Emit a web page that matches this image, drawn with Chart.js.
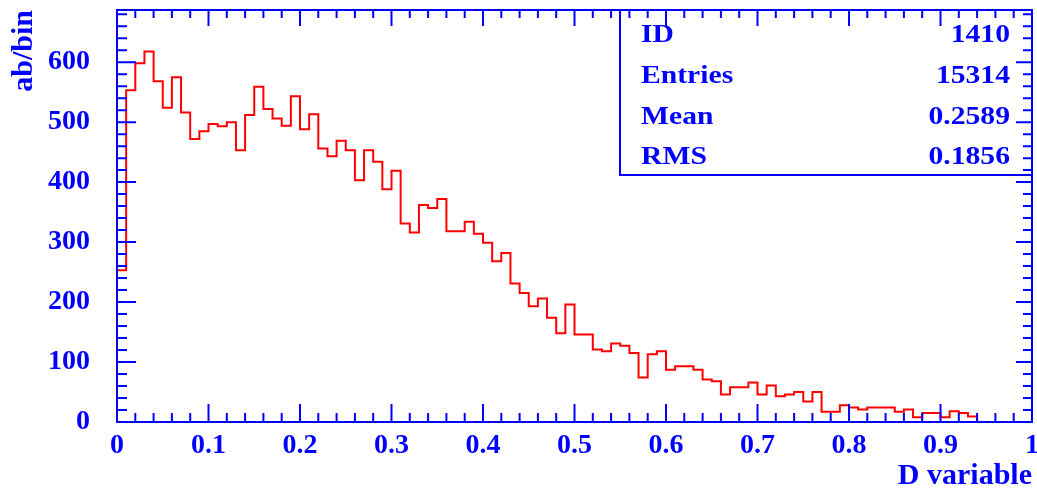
<!DOCTYPE html>
<html><head><meta charset="utf-8">
<script src="https://cdn.jsdelivr.net/npm/chart.js@4"></script>
<style>html,body{margin:0;padding:0;background:#fff;overflow:hidden}#wrap{width:1037px;height:494px}</style>
</head><body><div id="wrap"><canvas id="c" width="1037" height="494"></canvas></div>
<script>
// ---- data ----
const BIN_WIDTH = 0.01;
const binValues = [
  253, 553, 598, 618, 568, 524, 575, 516, 472, 485,
  497, 493, 500, 453, 512, 559, 522, 506, 494, 543,
  488, 513, 456, 443, 469, 453, 403, 453, 434, 388,
  419, 331, 316, 362, 357, 372, 318, 318, 334, 314,
  299, 268, 282, 231, 215, 193, 206, 174, 148, 196,
  146, 146, 121, 118, 131, 127, 115, 74, 113, 118,
  87, 93, 93, 87, 71, 68, 46, 58, 58, 66,
  46, 61, 43, 46, 50, 34, 50, 17, 17, 28,
  24, 21, 24, 24, 24, 17, 21, 8, 15, 15,
  8, 18, 15, 9
];
const xRange = [0, 1];
const yRange = [0, 687];
const xTickStep = 0.1;
const yTickStep = 100;
const xMinorStep = 0.02;
const yMinorStep = 20;
const xTitle = 'D variable';
const yTitle = 'ab/bin';
const statsLabels = ['ID', 'Entries', 'Mean', 'RMS'];
const statsValues = ['1410', '15314', '0.2589', '0.1856'];

// ---- style ----
const BLUE = '#0000ff';
const RED = '#ff0000';
const FONT = '"Liberation Serif", "DejaVu Serif", serif';

const points = [{x: 0, y: 0}];
binValues.forEach((v, i) => points.push({x: i * BIN_WIDTH, y: v}));
points.push({x: binValues.length * BIN_WIDTH, y: 0});

const framePlugin = {
  id: 'framePlugin',
  afterDraw(chart) {
    const {ctx, chartArea: a, scales: {x, y}} = chart;
    ctx.save();
    ctx.strokeStyle = BLUE;
    ctx.lineWidth = 2;
    ctx.beginPath();
    const nx = Math.round((xRange[1] - xRange[0]) / xMinorStep);
    for (let k = 0; k <= nx; k++) {
      const px = x.getPixelForValue(xRange[0] + k * xMinorStep);
      const major = k % 5 === 0;
      ctx.moveTo(px, a.bottom); ctx.lineTo(px, a.bottom - (major ? 18 : 9));
      ctx.moveTo(px, a.top); ctx.lineTo(px, a.top + (major ? 16 : 8));
    }
    const ny = Math.floor((yRange[1] - yRange[0]) / yMinorStep);
    for (let k = 0; k <= ny; k++) {
      const py = y.getPixelForValue(yRange[0] + k * yMinorStep);
      const major = k % 5 === 0;
      ctx.moveTo(a.left, py); ctx.lineTo(a.left + (major ? 19 : 10), py);
      ctx.moveTo(a.right, py); ctx.lineTo(a.right - (major ? 16 : 9), py);
    }
    ctx.stroke();
    ctx.strokeRect(a.left, a.top, a.right - a.left, a.bottom - a.top);

    // stats box
    const bx = a.right - 412, by = a.top, bh = 165;
    ctx.strokeRect(bx, by, a.right - bx, bh);
    ctx.fillStyle = BLUE;
    ctx.font = 'bold 26px ' + FONT;
    ctx.textBaseline = 'alphabetic';
    const sx = 1.14;
    statsLabels.forEach((lab, i) => {
      const cy = by + 32 + 40.8 * i;
      ctx.save();
      ctx.translate(bx + 21, cy);
      ctx.scale(sx, 1);
      ctx.textAlign = 'left';
      ctx.fillText(lab, 0, 0);
      ctx.restore();
      ctx.save();
      ctx.translate(a.right - 22, cy);
      ctx.scale(sx, 1);
      ctx.textAlign = 'right';
      ctx.fillText(statsValues[i], 0, 0);
      ctx.restore();
    });
    ctx.restore();
  }
};

new Chart(document.getElementById('c'), {
  type: 'line',
  data: {
    datasets: [{
      data: points,
      stepped: true,
      borderColor: RED,
      borderWidth: 2,
      pointRadius: 0,
      fill: false,
      tension: 0
    }]
  },
  options: {
    responsive: false,
    animation: false,
    devicePixelRatio: 1,
    layout: {padding: {top: 10, right: 5, left: 0, bottom: 0}},
    plugins: {legend: {display: false}, tooltip: {enabled: false}},
    scales: {
      x: {
        type: 'linear',
        min: xRange[0], max: xRange[1],
        grid: {display: false, drawTicks: false},
        border: {display: false},
        ticks: {
          stepSize: xTickStep, color: BLUE, padding: 7, maxRotation: 0, autoSkip: false,
          font: {family: FONT, size: 28, weight: 'bold'},
          callback: v => String(Number(v.toFixed(2)))
        },
        title: {
          display: true, text: xTitle, align: 'end', color: BLUE, padding: 0,
          font: {family: FONT, size: 30, weight: 'bold'}
        },
        afterFit(s) { s.height = 72; s.paddingLeft = 0; s.paddingRight = 0; }
      },
      y: {
        type: 'linear',
        min: yRange[0], max: yRange[1],
        grid: {display: false, drawTicks: false},
        border: {display: false},
        ticks: {
          stepSize: yTickStep, includeBounds: false, color: BLUE, padding: 27,
          font: {family: FONT, size: 28, weight: 'bold'}
        },
        title: {
          display: true, text: yTitle, align: 'end', color: BLUE, padding: 6,
          font: {family: FONT, size: 30, weight: 'bold'}
        },
        afterFit(s) { s.width = 117; s.paddingTop = 0; s.paddingBottom = 0; }
      }
    }
  },
  plugins: [framePlugin]
});
</script>
</body></html>
